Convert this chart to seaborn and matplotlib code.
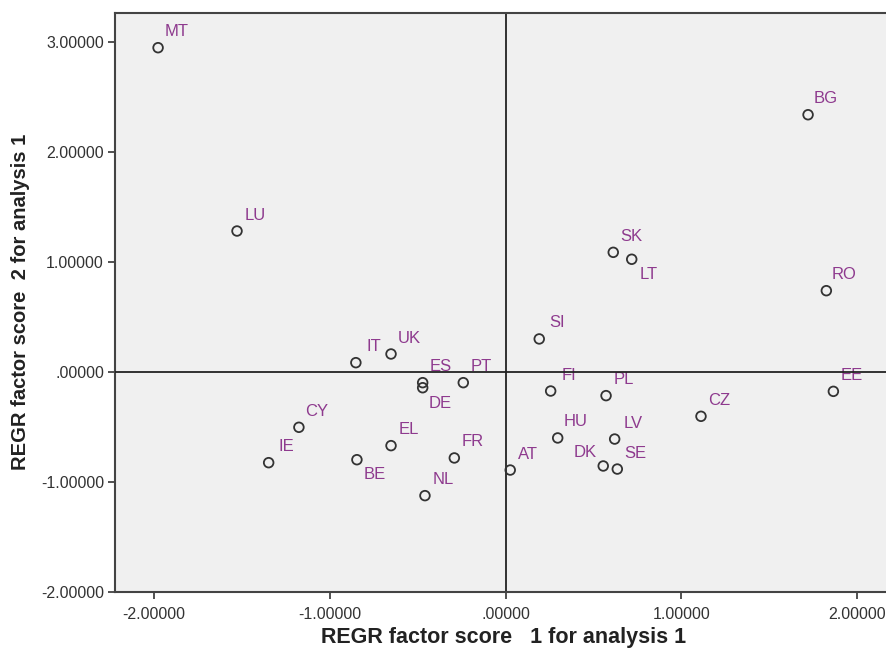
import matplotlib
matplotlib.use("Agg")
import matplotlib.pyplot as plt
import seaborn as sns
import pandas as pd

countries = ["MT", "LU", "BG", "SK", "LT", "RO", "SI", "IT", "UK", "ES", "DE", "PT",
             "FI", "PL", "EE", "CZ", "HU", "LV", "DK", "SE", "AT", "CY", "IE", "EL",
             "BE", "FR", "NL"]
factor1 = [-1.977, -1.528, 1.720, 0.612, 0.717, 1.824, 0.191, -0.852, -0.652, -0.472, -0.472, -0.241,
           0.256, 0.571, 1.864, 1.111, 0.296, 0.620, 0.555, 0.635, 0.026, -1.176, -1.348, -0.652,
           -0.846, -0.292, -0.459]
factor2 = [2.950, 1.282, 2.340, 1.088, 1.025, 0.739, 0.300, 0.084, 0.163, -0.098, -0.144, -0.098,
           -0.174, -0.216, -0.177, -0.404, -0.601, -0.611, -0.856, -0.884, -0.893, -0.504, -0.826, -0.671,
           -0.799, -0.783, -1.126]
x_ticks = [-2.0, -1.0, 0.0, 1.0, 2.0]
y_ticks = [-2.0, -1.0, 0.0, 1.0, 2.0, 3.0]

df = pd.DataFrame({"country": countries, "f1": factor1, "f2": factor2})

sns.set_theme(style="white")
plt.rcParams["font.family"] = ["Liberation Sans", "DejaVu Sans"]

fig = plt.figure(figsize=(8.87, 6.55), dpi=100)
ax = fig.add_axes([115 / 887, (655 - 591.7) / 655, (887 - 115) / 887, (591.7 - 13.3) / 655])
ax.set_facecolor("#F0F0F0")

ax.axvline(0, color="#222222", lw=1.3, zorder=1)
ax.axhline(0, color="#222222", lw=1.3, zorder=3)

sns.scatterplot(data=df, x="f1", y="f2", ax=ax, s=48, facecolor="none",
                edgecolor="#333333", linewidth=1.3, zorder=2, legend=False)

below = {"LT", "DE", "BE"}
left = {"DK"}
for c, x, y in zip(countries, factor1, factor2):
    if c in below:
        off = (12.5, -11)
    elif c in left:
        off = (-13, 10)
    else:
        off = (13, 11.5)
    ax.annotate(c, (x, y), xytext=off, textcoords="offset points",
                ha="center", va="center", fontsize=12, color="#8E3A8E", zorder=2)

ax.set_xlim(-2.222, 2.169)
ax.set_ylim(-2.0, 3.263)
ax.set_xticks(x_ticks)
ax.set_yticks(y_ticks)

def fmt(v):
    s = f"{v:.5f}"
    if s.startswith("0."):
        s = s[1:]
    elif s.startswith("-0."):
        s = "-" + s[2:]
    return s

ax.set_xticklabels([fmt(v) for v in x_ticks])
ax.set_yticklabels([fmt(v) for v in y_ticks])
ax.tick_params(axis="both", direction="out", length=5, width=1.2, color="#333333",
               labelsize=11.5, labelcolor="#333333", bottom=True, left=True)
ax.tick_params(axis="x", pad=6)
ax.tick_params(axis="y", pad=3)

for side in ["left", "bottom", "top"]:
    ax.spines[side].set_visible(True)
    ax.spines[side].set_color("#444444")
    ax.spines[side].set_linewidth(1.5)
ax.spines["right"].set_visible(False)

ax.set_xlabel("REGR factor score   1 for analysis 1", fontsize=15.5, fontweight="bold",
              color="#222222")
ax.set_ylabel("REGR factor score  2 for analysis 1", fontsize=14.5, fontweight="bold",
              color="#222222")
ax.xaxis.set_label_coords((504 - 115) / 772, -(637 - 591.7) / 578.4)
ax.yaxis.set_label_coords(-(115 - 21) / 772, (591.7 - 302) / 578.4)
ax.xaxis.label.set_va("center")
ax.yaxis.label.set_va("center")

fig.savefig("out.png", dpi=100)
